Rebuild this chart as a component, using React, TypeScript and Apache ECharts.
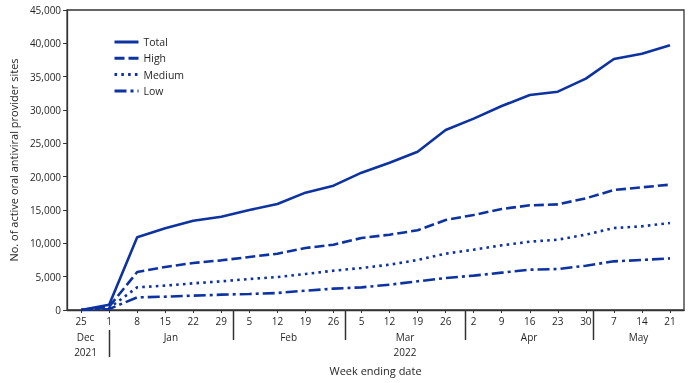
import { useEffect, useRef } from "react";
import * as echarts from "echarts";

const weekLabels = ["25", "1", "8", "15", "22", "29", "5", "12", "19", "26", "5", "12", "19", "26", "2", "9", "16", "23", "30", "7", "14", "21"];
const total = [0, 800, 10900, 12250, 13400, 14000, 15000, 15900, 17600, 18650, 20600, 22100, 23750, 27000, 28700, 30600, 32250, 32750, 34700, 37650, 38450, 39700];
const high = [0, 500, 5700, 6450, 7050, 7450, 7950, 8450, 9300, 9800, 10800, 11300, 11950, 13500, 14250, 15150, 15700, 15850, 16750, 18000, 18400, 18800];
const medium = [0, 300, 3400, 3650, 4000, 4300, 4650, 4950, 5400, 5900, 6300, 6800, 7500, 8450, 9050, 9700, 10250, 10550, 11300, 12300, 12550, 13050];
const low = [0, 150, 1900, 2000, 2150, 2300, 2400, 2550, 2900, 3200, 3400, 3800, 4300, 4800, 5150, 5600, 6050, 6150, 6650, 7300, 7500, 7750];
const monthLabels = ["Dec", "Jan", "Feb", "Mar", "Apr", "May"];
const yearLabels: Record<string, string> = { Dec: "2021", Mar: "2022" };
// month boundaries, in week-index units
const monthBreaks = [1, 5.4, 9.4, 13.7, 18.25];

const FONT = "'Open Sans', sans-serif";
const TEXT = "#231f20";
const BLUE = "#0d33a0";

export default function App() {
  const ref = useRef<HTMLDivElement>(null);
  useEffect(() => {
    if (!ref.current) return;
    const chart = echarts.init(ref.current, undefined, { renderer: "svg" });
    const lineSeries = (name: string, data: number[], type: any) => ({
      name,
      type: "line",
      data,
      symbol: "none",
      lineStyle: { color: BLUE, width: 2.6, type },
      itemStyle: { color: BLUE },
    });
    chart.setOption({
      animation: false,
      textStyle: { fontFamily: FONT },
      grid: { left: 62, right: 13, top: 10, bottom: 73, show: true, borderColor: "#333", borderWidth: 1.3 },
      legend: {
        orient: "vertical",
        left: 113,
        top: 36.5,
        padding: 0,
        itemWidth: 24,
        itemHeight: 10,
        itemGap: 5.3,
        itemStyle: { opacity: 0 },
        lineStyle: { width: 3 },
        textStyle: { fontFamily: FONT, fontSize: 10.5, color: TEXT },
        data: ["Total", "High", "Medium", "Low"],
      },
      xAxis: {
        type: "category",
        data: weekLabels,
        boundaryGap: true,
        axisLine: { lineStyle: { color: "#333", width: 1.3 } },
        axisTick: { show: true, alignWithLabel: true, length: 3, lineStyle: { color: "#333" } },
        axisLabel: { fontFamily: FONT, fontSize: 10, color: TEXT, margin: 6, interval: 0 },
        name: "Week ending date",
        nameLocation: "middle",
        nameGap: 55,
        nameTextStyle: { fontFamily: FONT, fontSize: 11, color: TEXT },
      },
      yAxis: {
        type: "value",
        min: 0,
        max: 45000,
        interval: 5000,
        splitLine: { show: false },
        axisLine: { show: true, lineStyle: { color: "#333", width: 1.3 } },
        axisTick: { show: true, length: 4, lineStyle: { color: "#333" } },
        axisLabel: {
          fontFamily: FONT,
          fontSize: 10,
          color: TEXT,
          margin: 6,
          formatter: (v: number) => v.toLocaleString("en-US"),
        },
        name: "No. of active oral antiviral provider sites",
        nameLocation: "middle",
        nameGap: 42,
        nameTextStyle: { fontFamily: FONT, fontSize: 11, color: TEXT },
      },
      series: [
        lineSeries("Total", total, "solid"),
        lineSeries("High", high, [10, 4]),
        lineSeries("Medium", medium, [2.6, 4.2]),
        lineSeries("Low", low, [12, 4, 3, 4]),
      ],
    });

    const x0 = chart.convertToPixel({ xAxisIndex: 0 }, 0) as number;
    const xN = chart.convertToPixel({ xAxisIndex: 0 }, weekLabels.length - 1) as number;
    const px = (i: number) => x0 + ((xN - x0) * i) / (weekLabels.length - 1);
    const gridLeft = 62;
    const gridRight = 697 - 13;
    const edges = [gridLeft, ...monthBreaks.map(px), gridRight];
    const elements: any[] = [];
    monthBreaks.forEach((b, k) => {
      const x = Math.round(px(b)) + 0.5;
      const first = k === 0;
      elements.push({
        type: "line",
        shape: { x1: x, y1: first ? 330 : 310, x2: x, y2: first ? 357 : 340 },
        style: { stroke: "#333", lineWidth: 1.5 },
      });
    });
    monthLabels.forEach((m, k) => {
      const cx = (edges[k] + edges[k + 1]) / 2;
      elements.push({
        type: "text",
        x: cx,
        y: 337,
        style: { text: m, fontFamily: FONT, fontSize: 10, fill: TEXT, align: "center", verticalAlign: "middle" },
      });
      if (yearLabels[m]) {
        elements.push({
          type: "text",
          x: cx,
          y: 352,
          style: { text: yearLabels[m], fontFamily: FONT, fontSize: 10, fill: TEXT, align: "center", verticalAlign: "middle" },
        });
      }
    });
    chart.setOption({ graphic: elements });

    return () => chart.dispose();
  }, []);
  return <div ref={ref} style={{ position: "fixed", left: 0, top: 0, width: 697, height: 383 }} />;
}
